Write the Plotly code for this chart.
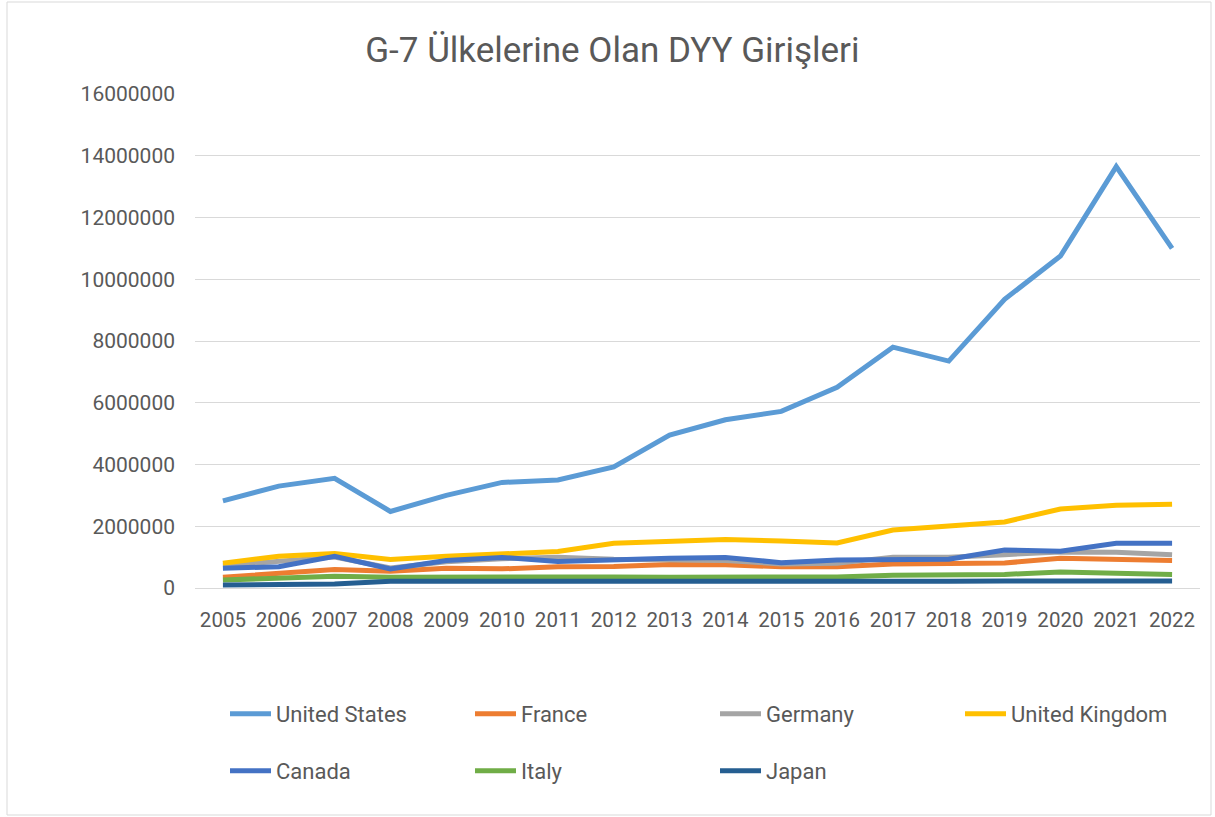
import plotly.graph_objects as go

years = [str(y) for y in range(2005, 2023)]

united_states = [2820000, 3300000, 3550000, 2480000, 3000000, 3420000, 3500000, 3920000, 4950000,
                 5450000, 5720000, 6500000, 7800000, 7350000, 9350000, 10750000, 13650000, 11000000]
france = [350000, 480000, 600000, 540000, 640000, 620000, 690000, 700000, 760000,
          750000, 690000, 690000, 780000, 790000, 810000, 960000, 940000, 890000]
germany = [720000, 880000, 1000000, 650000, 850000, 950000, 1000000, 930000, 920000,
           890000, 780000, 800000, 1000000, 1000000, 1080000, 1170000, 1160000, 1080000]
united_kingdom = [800000, 1030000, 1120000, 920000, 1030000, 1100000, 1180000, 1450000, 1510000,
                  1570000, 1520000, 1460000, 1880000, 1990000, 2140000, 2560000, 2680000, 2710000]
canada = [640000, 690000, 1030000, 620000, 890000, 990000, 860000, 920000, 960000,
          990000, 820000, 910000, 940000, 930000, 1230000, 1190000, 1450000, 1450000]
italy = [260000, 310000, 380000, 350000, 360000, 360000, 360000, 360000, 350000,
         350000, 340000, 360000, 410000, 420000, 440000, 520000, 460000, 440000]
japan = [100000, 110000, 130000, 220000, 220000, 220000, 220000, 210000, 190000,
         180000, 180000, 200000, 210000, 220000, 230000, 240000, 230000, 230000]

series = [
    ("United States", united_states, "#5B9BD5", "legend"),
    ("France", france, "#ED7D31", "legend"),
    ("Germany", germany, "#A5A5A5", "legend"),
    ("United Kingdom", united_kingdom, "#FFC000", "legend"),
    ("Canada", canada, "#4472C4", "legend2"),
    ("Italy", italy, "#70AD47", "legend2"),
    ("Japan", japan, "#255E91", "legend2"),
]

FONT = "Roboto, Noto Sans, sans-serif"
GREY = "#595959"

fig = go.Figure()
for name, vals, col, leg in series:
    fig.add_trace(go.Scatter(x=years, y=vals, mode="lines", name=name, legend=leg,
                             line=dict(color=col, width=5)))

legend_common = dict(orientation="h", xref="container", x=225 / 1215, xanchor="left",
                     yref="container", yanchor="middle",
                     entrywidth=189, entrywidthmode="pixels", itemwidth=41,
                     font=dict(size=22, color=GREY, family=FONT),
                     bgcolor="rgba(0,0,0,0)")

fig.update_layout(
    width=1215, height=817,
    margin=dict(l=195, r=15, t=94, b=229),
    paper_bgcolor="white", plot_bgcolor="white",
    font=dict(family=FONT, color=GREY, size=20),
    title=dict(text="G-7 Ülkelerine Olan DYY Girişleri", x=0.504, xref="container",
               y=1 - 50 / 817, yref="container", xanchor="center", yanchor="middle",
               font=dict(size=35, color=GREY, family=FONT)),
    showlegend=True,
    legend=dict(legend_common, y=1 - 714 / 817),
    legend2=dict(legend_common, y=1 - 771 / 817),
    xaxis=dict(type="category", range=[-0.5, 17.5], showgrid=False, showline=False, ticks="",
               ticklabelstandoff=17, tickfont=dict(size=20.5, color=GREY)),
    yaxis=dict(range=[0, 16000000], dtick=2000000, tickformat="d", showgrid=True,
               gridcolor="#D9D9D9", gridwidth=1, zeroline=True, zerolinecolor="#D9D9D9",
               zerolinewidth=1, ticks="", ticklabelstandoff=19,
               tickfont=dict(size=21, color=GREY)),
    shapes=[dict(type="rect", xref="paper", yref="paper",
                 x0=(7 - 195) / 1005, x1=(1211 - 195) / 1005,
                 y0=(588 - 815) / 494, y1=(588 - 2) / 494,
                 line=dict(color="#D9D9D9", width=1), fillcolor="rgba(0,0,0,0)", layer="below")],
)

fig.write_html("out.html", config={"displayModeBar": False})

with open("out.html", "r", encoding="utf-8") as f:
    html = f.read()
html = html.replace("<body>", '<body style="margin:0;overflow:hidden">', 1)
with open("out.html", "w", encoding="utf-8") as f:
    f.write(html)
